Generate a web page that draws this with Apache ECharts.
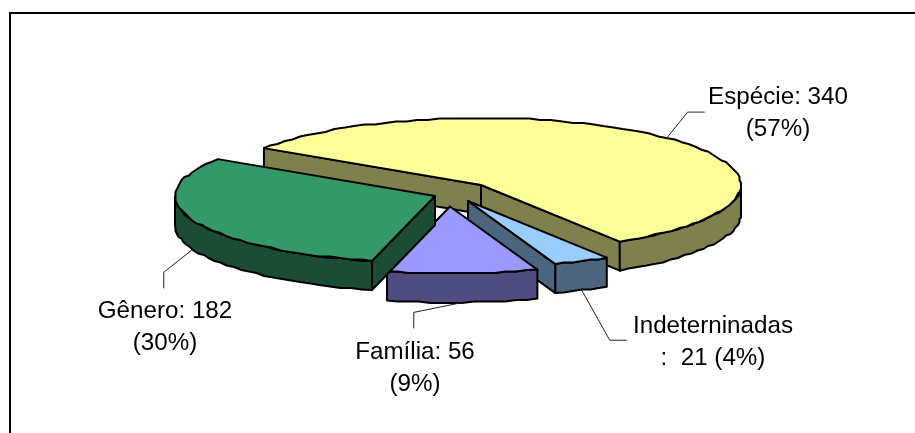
<!DOCTYPE html>
<html>
<head>
<meta charset="utf-8">
<style>html,body{margin:0;padding:0;background:#fff}#chart{width:915px;height:433px}</style>
<script src="https://cdn.jsdelivr.net/npm/echarts@6/dist/echarts.min.js"></script>
</head>
<body>
<div id="chart"></div>
<script>
// Slices in clockwise order, starting from the first cut of the pie.
var categories = ['Espécie', 'Indeterminadas', 'Família', 'Gênero'];
var values = [340, 21, 56, 182];
var labelTexts = ['Espécie: 340\n(57%)', 'Indeterninadas\n:  21 (4%)', 'Família: 56\n(9%)', 'Gênero: 182\n(30%)'];
var topColors = ['#FFFF99', '#99CCFF', '#9999FF', '#339966'];
var wallColors = ['#80804D', '#4D6680', '#4D4D80', '#1A4D33'];

// Projection of the tilted disc and the exploded position of each slice.
var RX = 260, RY = 67, DEPTH = 29, START_DEG = -56.6;
var centers = [[481, 185], [468, 201], [450, 206.5], [435, 196]];

// Leader knees relative to the rim point, and label anchors.
var leaders = [
  { rimDepth: false, knee: [21, -26], end: [38, -26], text: [778, 113] },
  { rimDepth: true, knee: [28, 50], end: [45, 50], text: [713, 342] },
  { rimDepth: true, knee: [-49, 10], end: [-49, 26], text: [415, 368] },
  { rimDepth: true, knee: [-29, 23], end: [-29, 39], text: [165, 327] }
];

var total = values.reduce(function (a, b) { return a + b; }, 0);

function rim(center, deg, dz) {
  var a = deg * Math.PI / 180;
  return [center[0] + RX * Math.sin(a), center[1] - RY * Math.cos(a) + (dz || 0)];
}

// The rim is a polygon snapped to a low-resolution grid, like a metafile outline.
function arcPoints(center, from, to, dz) {
  var pts = [];
  var n = Math.max(2, Math.ceil(Math.abs(to - from) / 2.5));
  for (var i = 0; i <= n; i++) {
    var p = rim(center, from + (to - from) * i / n, dz);
    if (i > 0 && i < n) p = [Math.round(p[0] / 1.5) * 1.5, Math.round(p[1] / 1.5) * 1.5];
    pts.push(p);
  }
  return pts;
}

function down(p) { return [p[0], p[1] + DEPTH]; }

function polygon(points, fill) {
  return {
    type: 'polygon',
    shape: { points: points },
    style: { fill: fill, stroke: '#000', lineWidth: 2, lineJoin: 'round' }
  };
}

// A cut face shows when its outward normal points down the screen.
function faceVisible(normalDeg) {
  return Math.cos(normalDeg * Math.PI / 180) < 0;
}

function renderSlice(params, api) {
  var i = api.value(0);
  var value = api.value(1);
  var before = 0;
  for (var k = 0; k < i; k++) before += values[k];
  var a0 = START_DEG + before / total * 360;
  var a1 = a0 + value / total * 360;
  var mid = (a0 + a1) / 2;
  var c = centers[i];
  var wall = wallColors[i];
  var children = [];

  function cutFace(deg) {
    var p = rim(c, deg);
    children.push(polygon([c, p, down(p), down(c)], wall));
  }
  if (faceVisible(a0 - 90)) cutFace(a0);
  if (faceVisible(a1 + 90)) cutFace(a1);

  // Outer wall, limited to the front half of the rim.
  var wallFrom = Math.max(a0, 90), wallTo = Math.min(a1, 270);
  if (wallTo > wallFrom) {
    var upper = arcPoints(c, wallFrom, wallTo, 0);
    var lower = arcPoints(c, wallTo, wallFrom, DEPTH);
    children.push(polygon(upper.concat(lower), wall));
  }

  // Top face.
  children.push(polygon([c].concat(arcPoints(c, a0, a1, 0)), topColors[i]));

  // Leader line from the rim to the label.
  var lead = leaders[i];
  var r = rim(c, mid, lead.rimDepth ? DEPTH : 0);
  children.push({
    type: 'polyline',
    shape: { points: [r, [r[0] + lead.knee[0], r[1] + lead.knee[1]], [r[0] + lead.end[0], r[1] + lead.end[1]]] },
    style: { fill: null, stroke: '#222', lineWidth: 1 }
  });

  // Label.
  children.push({
    type: 'text',
    style: {
      text: labelTexts[i],
      x: lead.text[0],
      y: lead.text[1],
      align: 'center',
      verticalAlign: 'middle',
      fill: '#000',
      font: '24.2px "Liberation Sans", Arial, sans-serif',
      lineHeight: 32
    }
  });

  return { type: 'group', children: children };
}

var chart = echarts.init(document.getElementById('chart'), null, { renderer: 'canvas' });
chart.setOption({
  animation: false,
  backgroundColor: '#fff',
  graphic: [{
    type: 'polyline',
    shape: { points: [[10, 433], [10, 13], [915, 13]] },
    style: { fill: null, stroke: '#000', lineWidth: 2 }
  }],
  series: [{
    type: 'custom',
    coordinateSystem: 'none',
    renderItem: renderSlice,
    data: categories.map(function (name, i) { return { name: name, value: [i, values[i]] }; })
  }]
});
</script>
</body>
</html>
